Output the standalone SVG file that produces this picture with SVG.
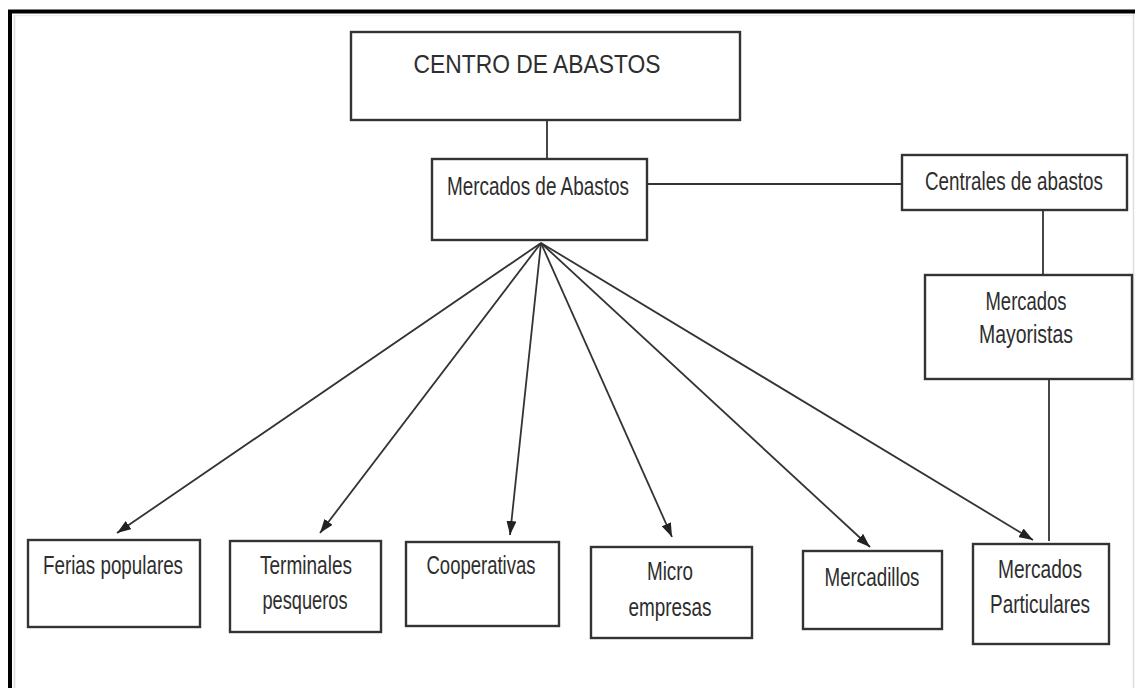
<svg xmlns="http://www.w3.org/2000/svg" width="1135" height="688" viewBox="0 0 1135 688">
<style>
.box{fill:#fff;stroke:#333;stroke-width:2.4}
.t{font-family:"Liberation Sans",Arial,sans-serif;font-size:25px;fill:#2e2e2e;text-anchor:middle}
.c{stroke:#333;stroke-width:1.8;fill:none}
</style>
<defs>
<marker id="ah" viewBox="0 0 14 10" refX="14" refY="5" markerWidth="14" markerHeight="10" markerUnits="userSpaceOnUse" orient="auto">
<path d="M0,0 L14,5 L0,10 z" fill="#222"/>
</marker>
</defs>
<rect width="1135" height="688" fill="#fff"/>
<g id="frame">
<line x1="14.5" y1="15" x2="14.5" y2="688" stroke="#ddd" stroke-width="1.5"/>
<line x1="15" y1="15.5" x2="1135" y2="15.5" stroke="#eee" stroke-width="1.5"/>
<line x1="1133.5" y1="12" x2="1133.5" y2="688" stroke="#ddd" stroke-width="1.5"/>
<path d="M10,688 V11.5 H1135" fill="none" stroke="#000" stroke-width="4"/>
</g>
<g id="connectors">
<line class="c" x1="547" y1="120" x2="547" y2="159"/>
<line class="c" x1="647" y1="184" x2="902" y2="184"/>
<line class="c" x1="1043" y1="210" x2="1043" y2="275"/>
<line class="c" x1="1049" y1="379" x2="1049" y2="541"/>
<line class="c" x1="541" y1="243" x2="117" y2="533" marker-end="url(#ah)"/>
<line class="c" x1="541" y1="243" x2="320" y2="533" marker-end="url(#ah)"/>
<line class="c" x1="541" y1="243" x2="510" y2="535" marker-end="url(#ah)"/>
<line class="c" x1="541" y1="243" x2="672" y2="537" marker-end="url(#ah)"/>
<line class="c" x1="541" y1="243" x2="870" y2="547" marker-end="url(#ah)"/>
<line class="c" x1="541" y1="243" x2="1033" y2="540" marker-end="url(#ah)"/>
</g>
<g id="centro">
<rect class="box" x="351" y="32" width="389" height="88"/>
<text class="t" x="537" y="73" font-size="36" textLength="247" lengthAdjust="spacingAndGlyphs">CENTRO DE ABASTOS</text>
</g>
<g id="mercados-abastos">
<rect class="box" x="432" y="159" width="215" height="81"/>
<text class="t" x="538" y="195" textLength="182" lengthAdjust="spacingAndGlyphs">Mercados de Abastos</text>
</g>
<g id="centrales">
<rect class="box" x="902" y="155" width="225" height="55"/>
<text class="t" x="1014" y="190" font-size="22" textLength="178" lengthAdjust="spacingAndGlyphs">Centrales de abastos</text>
</g>
<g id="mayoristas">
<rect class="box" x="925" y="275" width="207" height="104"/>
<text class="t" x="1026" y="310" textLength="81" lengthAdjust="spacingAndGlyphs">Mercados</text>
<text class="t" x="1026" y="343" textLength="94" lengthAdjust="spacingAndGlyphs">Mayoristas</text>
</g>
<g id="ferias">
<rect class="box" x="28" y="540" width="172" height="87"/>
<text class="t" x="113" y="574" textLength="140" lengthAdjust="spacingAndGlyphs">Ferias populares</text>
</g>
<g id="terminales">
<rect class="box" x="230" y="541" width="151" height="91"/>
<text class="t" x="306" y="574" textLength="92" lengthAdjust="spacingAndGlyphs">Terminales</text>
<text class="t" x="305" y="609" textLength="85" lengthAdjust="spacingAndGlyphs">pesqueros</text>
</g>
<g id="cooperativas">
<rect class="box" x="406" y="542" width="153" height="84"/>
<text class="t" x="481" y="574" textLength="109" lengthAdjust="spacingAndGlyphs">Cooperativas</text>
</g>
<g id="micro">
<rect class="box" x="591" y="547" width="161" height="91"/>
<text class="t" x="670" y="580" textLength="46" lengthAdjust="spacingAndGlyphs">Micro</text>
<text class="t" x="670" y="616" textLength="83" lengthAdjust="spacingAndGlyphs">empresas</text>
</g>
<g id="mercadillos">
<rect class="box" x="803" y="551" width="139" height="78"/>
<text class="t" x="872" y="586" textLength="95" lengthAdjust="spacingAndGlyphs">Mercadillos</text>
</g>
<g id="particulares">
<rect class="box" x="973" y="544" width="136" height="100"/>
<text class="t" x="1040" y="578" textLength="84" lengthAdjust="spacingAndGlyphs">Mercados</text>
<text class="t" x="1040" y="613" textLength="100" lengthAdjust="spacingAndGlyphs">Particulares</text>
</g>
</svg>
